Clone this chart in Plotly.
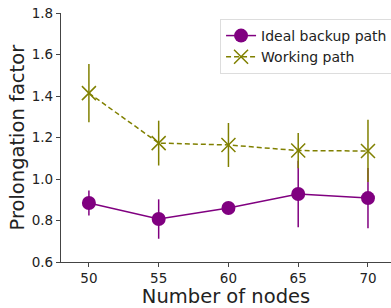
import plotly.graph_objects as go

nodes = [50, 55, 60, 65, 70]
ideal_backup = [0.884, 0.807, 0.860, 0.928, 0.908]
ideal_backup_err = [0.060, 0.095, 0.020, 0.160, 0.145]
working = [1.414, 1.173, 1.164, 1.137, 1.135]
working_err = [0.140, 0.108, 0.106, 0.085, 0.150]

purple = "#800080"
olive = "#808000"
font = "DejaVu Sans"

fig = go.Figure()
fig.add_trace(go.Scatter(
    x=nodes, y=ideal_backup, name="Ideal backup path",
    mode="lines+markers",
    line=dict(color=purple, width=1.5),
    marker=dict(symbol="circle", size=14, color=purple),
    error_y=dict(type="data", array=ideal_backup_err, color=purple, thickness=1.5, width=0),
))
fig.add_trace(go.Scatter(
    x=nodes, y=working, name="Working path",
    mode="lines+markers",
    line=dict(color=olive, width=1.5, dash="5px,3px"),
    marker=dict(symbol="x-thin-open", size=14, color=olive, line=dict(color=olive, width=1.5)),
    error_y=dict(type="data", array=working_err, color=olive, thickness=1.5, width=0),
))

fig.update_layout(
    width=391, height=308,
    margin=dict(l=61, r=0, t=13, b=46, autoexpand=False),
    paper_bgcolor="white", plot_bgcolor="white",
    font=dict(family=font, size=13.5, color="#222"),
    showlegend=True,
    legend=dict(
        x=0.482, y=0.976, xanchor="left", yanchor="top",
        bgcolor="rgba(255,255,255,0.9)", bordercolor="#dddddd", borderwidth=1,
        font=dict(family=font, size=14, color="#222"),
        itemwidth=30, tracegroupgap=0,
    ),
    xaxis=dict(
        range=[48, 71.65], tickvals=nodes, ticktext=[str(v) for v in nodes],
        showgrid=False, zeroline=False, showline=True, linecolor="#444", linewidth=1.2,
        ticks="outside", ticklen=4, tickcolor="#444", automargin=False,
        title=dict(text="Number of nodes", font=dict(family=font, size=19.5, color="#222")),
        tickfont=dict(family=font, size=13.5, color="#222"),
    ),
    yaxis=dict(
        range=[0.6, 1.8], tickvals=[0.6, 0.8, 1.0, 1.2, 1.4, 1.6, 1.8],
        ticktext=["0.6", "0.8", "1.0", "1.2", "1.4", "1.6", "1.8"],
        showgrid=False, zeroline=False, showline=True, linecolor="#444", linewidth=1.2,
        ticks="outside", ticklen=4, tickcolor="#444", automargin=False,
        tickfont=dict(family=font, size=13.5, color="#222"),
    ),
    annotations=[dict(
        text="Prolongation factor", textangle=-90,
        xref="paper", yref="paper", x=-(61 - 17) / 330, y=0.5,
        xanchor="center", yanchor="middle", showarrow=False,
        font=dict(family=font, size=19.5, color="#222"),
    )],
)

fig.write_html(
    "out.html",
    config={"displayModeBar": False},
    post_script="document.body.style.margin='0';document.body.style.overflow='hidden';",
)
